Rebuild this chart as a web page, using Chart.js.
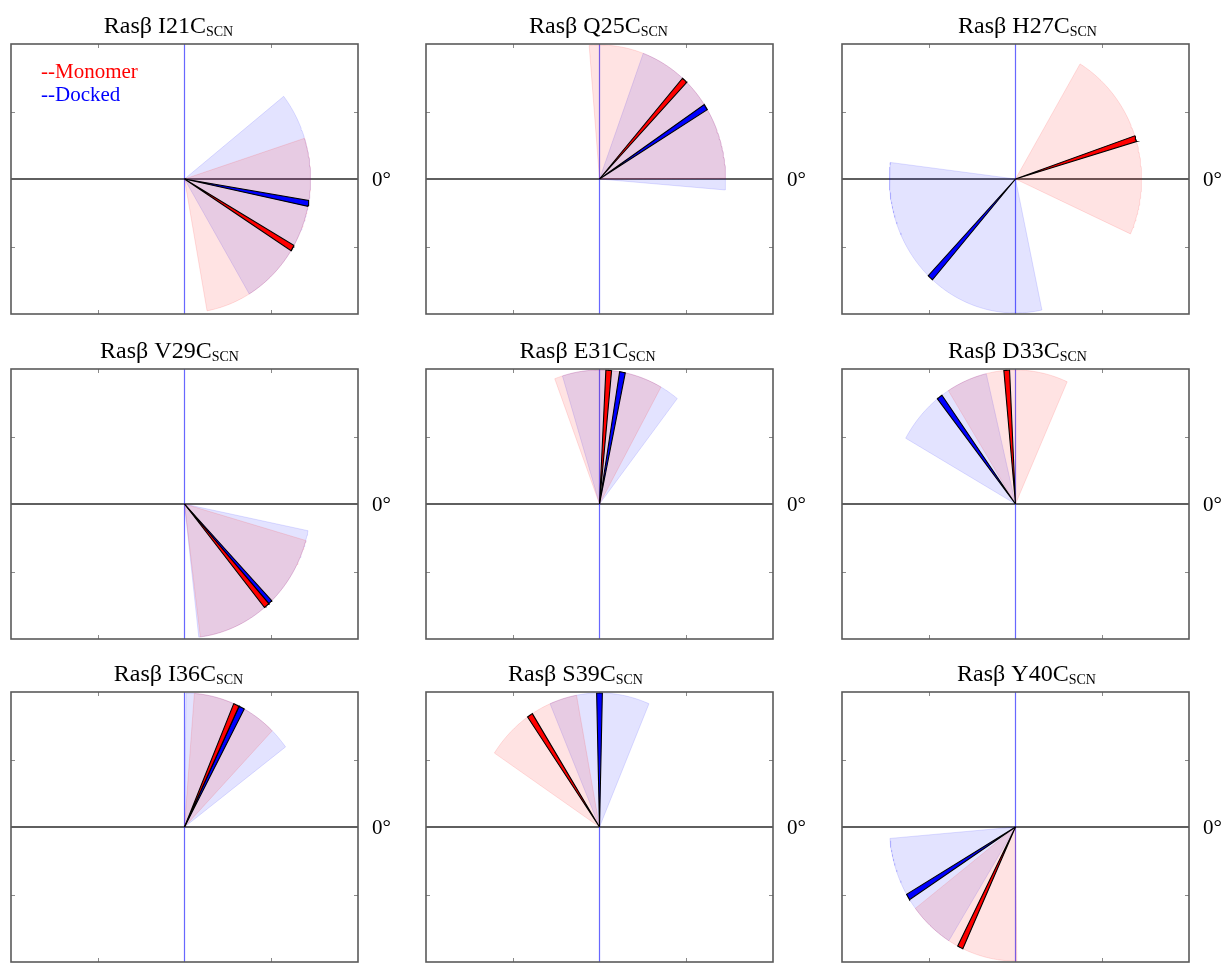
<!DOCTYPE html>
<html>
<head>
<meta charset="utf-8">
<script src="https://cdn.jsdelivr.net/npm/chart.js@4.4.0/dist/chart.umd.min.js"></script>
<style>
  html, body { margin: 0; padding: 0; background: #fff; overflow: hidden; }
  #grid { position: relative; width: 1228px; height: 963px; overflow: hidden; }
  #grid canvas { position: absolute; }
</style>
</head>
<body>
<div id="grid"></div>
<script>
// SCN label sites, left to right, top to bottom
const mutants = ['I21C', 'Q25C', 'H27C', 'V29C', 'E31C', 'D33C', 'I36C', 'S39C', 'Y40C'];

// mean orientation of the probe (deg, 0 = +x, counter-clockwise) and half-width of the spread (deg)
const monomerMean   = [-31.0, 47.5, 17.5, -49.3, 85.8, 94.0, 65.7, 123.5, 244.0];
const monomerSpread = [48.7, 47.2, 41.7, 33.5, 25.0, 28.2, 19.8, 23.0, 26.6];
const dockedMean    = [-10.5, 32.5, 227.5, -47.5, 79.5, 127.0, 63.0, 90.0, 211.5];
const dockedSpread  = [48.6, 37.2, 54.6, 36.0, 27.6, 23.6, 26.3, 23.1, 26.6];

const axisTicks = [-1, 1];

// layout
const colLeft = [0, 415, 831];
const rowTop = [0, 325, 648];
const titleShift = [-16, -1, 12, -15, -12, 2, -6, -24, 11];
const RX = 1.453, RY = 1.985;   // wedge radius in axis units
const BAR_HALF = 1.3;           // half-width of the mean bar, deg
const SERIF = "'Liberation Serif', 'Times New Roman', serif";

function sector(mean, half, step) {
  const pts = [{x: 0, y: 0}];
  const a0 = mean - half, a1 = mean + half;
  const n = Math.max(2, Math.ceil((a1 - a0) / step));
  for (let i = 0; i <= n; i++) {
    const a = (a0 + (a1 - a0) * i / n) * Math.PI / 180;
    pts.push({x: RX * Math.cos(a), y: RY * Math.sin(a)});
  }
  pts.push({x: 0, y: 0});
  return pts;
}

const panelDecor = {
  id: 'panelDecor',
  afterDatasetsDraw(chart) {
    const {ctx, chartArea: a, scales: {x, y}} = chart;
    ctx.save();
    ctx.strokeStyle = '#8a8a8a';
    ctx.lineWidth = 1;
    axisTicks.forEach(v => {
      const px = Math.round(x.getPixelForValue(v)) + 0.5;
      const py = Math.round(y.getPixelForValue(v)) + 0.5;
      ctx.beginPath();
      ctx.moveTo(px, a.top); ctx.lineTo(px, a.top + 4);
      ctx.moveTo(px, a.bottom); ctx.lineTo(px, a.bottom - 4);
      ctx.moveTo(a.left, py); ctx.lineTo(a.left + 4, py);
      ctx.moveTo(a.right, py); ctx.lineTo(a.right - 4, py);
      ctx.stroke();
    });
    ctx.strokeStyle = '#5a5a5a';
    ctx.lineWidth = 1.6;
    ctx.strokeRect(a.left, a.top, a.right - a.left, a.bottom - a.top);
    ctx.restore();
  },
  afterDraw(chart, args, opts) {
    const {ctx, chartArea: a, scales: {x, y}} = chart;
    const i = opts.index;
    const cx = x.getPixelForValue(0), cy = y.getPixelForValue(0);
    ctx.save();
    ctx.fillStyle = '#000';
    ctx.textBaseline = 'alphabetic';

    // title with subscript
    const main = 'Ras\u03b2 ' + mutants[i] + 'C'.slice(1);
    ctx.font = '24px ' + SERIF;
    const w1 = ctx.measureText(main).width;
    ctx.font = '14px ' + SERIF;
    const w2 = ctx.measureText('SCN').width;
    const tx = cx + titleShift[i] - (w1 + w2) / 2;
    const ty = a.top - 11;
    ctx.font = '24px ' + SERIF;
    ctx.fillText(main, tx, ty);
    ctx.font = '14px ' + SERIF;
    ctx.fillText('SCN', tx + w1, ty + 3);

    // zero-angle marker
    ctx.font = '21px ' + SERIF;
    ctx.fillText('0\u00b0', a.right + 14, cy + 7);

    if (i === 0) {
      ctx.font = '21px ' + SERIF;
      ctx.fillStyle = '#ff0000';
      ctx.fillText('--Monomer', a.left + 30, a.top + 34);
      ctx.fillStyle = '#0000ff';
      ctx.fillText('--Docked', a.left + 30, a.top + 57);
    }
    ctx.restore();
  }
};

const grid = document.getElementById('grid');

mutants.forEach((name, i) => {
  const canvas = document.createElement('canvas');
  canvas.width = 415;
  canvas.height = 325;
  canvas.style.left = colLeft[i % 3] + 'px';
  canvas.style.top = rowTop[Math.floor(i / 3)] + 'px';
  grid.appendChild(canvas);

  const wedge = (mean, half, color, edge) => ({
    data: sector(mean, half, 1),
    backgroundColor: color,
    borderColor: edge,
    borderWidth: 1,
    fill: 'shape',
    pointRadius: 0
  });
  const bar = (mean, color) => ({
    data: sector(mean, BAR_HALF, 0.5),
    backgroundColor: color,
    borderColor: '#000',
    borderWidth: 1.1,
    fill: 'shape',
    pointRadius: 0
  });

  new Chart(canvas, {
    type: 'line',
    data: {
      // first dataset is drawn on top
      datasets: [
        bar(monomerMean[i], '#ff0000'),
        bar(dockedMean[i], '#0000ff'),
        wedge(monomerMean[i], monomerSpread[i], 'rgba(255,0,0,0.11)', 'rgba(255,0,0,0.12)'),
        wedge(dockedMean[i], dockedSpread[i], 'rgba(0,0,255,0.11)', 'rgba(0,0,255,0.12)'),
        {data: [{x: 0, y: -2}, {x: 0, y: 2}], borderColor: 'rgba(40,40,255,0.7)', borderWidth: 1.2, pointRadius: 0, fill: false},
        {data: [{x: -2, y: 0}, {x: 2, y: 0}], borderColor: '#2a2a2a', borderWidth: 1.5, pointRadius: 0, fill: false}
      ]
    },
    options: {
      responsive: false,
      animation: false,
      devicePixelRatio: 1,
      layout: {padding: {left: 11, top: 44, right: 57, bottom: 11}},
      elements: {line: {tension: 0}},
      scales: {
        x: {type: 'linear', min: -2, max: 2, display: false},
        y: {type: 'linear', min: -2, max: 2, display: false}
      },
      plugins: {
        legend: {display: false},
        tooltip: {enabled: false},
        panelDecor: {index: i}
      }
    },
    plugins: [panelDecor]
  });
});
</script>
</body>
</html>
